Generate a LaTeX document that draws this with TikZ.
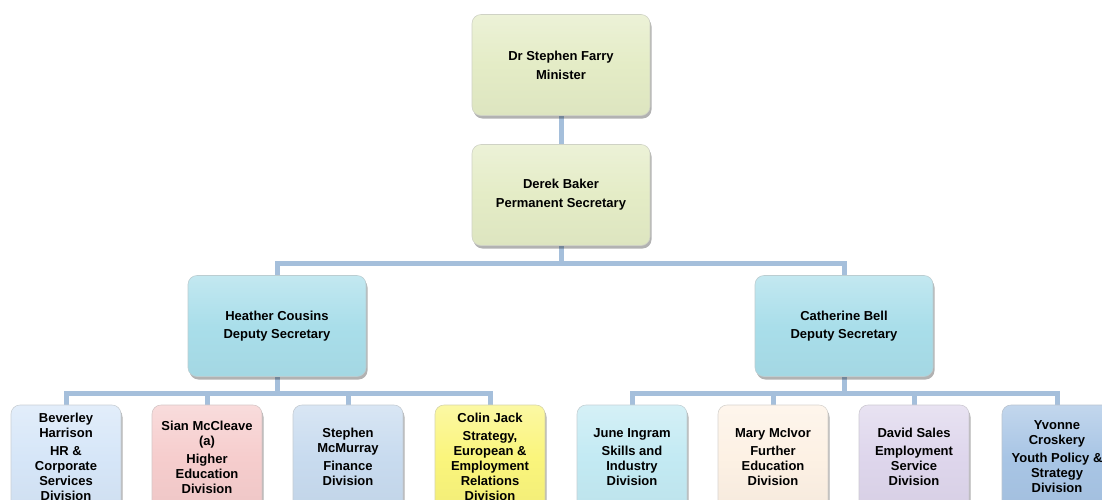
\documentclass[tikz,border=0pt]{standalone}
\usepackage{fontspec}
\setmainfont{Liberation Sans}
\usetikzlibrary{shadows}
\definecolor{cMin}{HTML}{E4ECC6}
\definecolor{cDep}{HTML}{A9DEEA}
\definecolor{cBev}{HTML}{D6E6F8}
\definecolor{cSian}{HTML}{F6CDCD}
\definecolor{cSteph}{HTML}{C8DBEF}
\definecolor{cColin}{HTML}{FAF57C}
\definecolor{cJune}{HTML}{C3EAF3}
\definecolor{cMary}{HTML}{FDF1E4}
\definecolor{cDavid}{HTML}{DED6EC}
\definecolor{cYv}{HTML}{A8C5E5}
\definecolor{cConn}{HTML}{A5BFDB}
\pgfdeclarelayer{bg}
\pgfsetlayers{bg,main}
\tikzset{
  box/.style={rounded corners=9pt, align=center, inner sep=0pt,
    font=\bfseries\fontsize{13}{15}\selectfont,
    draw=#1!70!black!50, line width=0.6pt,
    top color=#1!70!white, bottom color=#1!97!black, middle color=#1,
    drop shadow={shadow xshift=1.5pt, shadow yshift=-3pt, opacity=0.3, fill=black}},
  bigbox/.style={box=#1, minimum width=178, minimum height=101},
  smallbox/.style={box=#1, minimum width=110, minimum height=104},
  conn/.style={draw=cConn, line width=5pt}
}
\begin{document}
\begin{tikzpicture}[x=1pt,y=-1pt]
\begin{pgfonlayer}{bg}
\fill[white] (0,0) rectangle (1102,499);
\end{pgfonlayer}
\path[use as bounding box, clip] (0,0) rectangle (1102,499);
% top
\node[bigbox=cMin] (min) at (561,65) {Dr Stephen Farry\\[4pt]Minister};
\node[bigbox=cMin] (perm) at (561,195) {Derek Baker\\[4pt]Permanent Secretary};
\node[bigbox=cDep] (hc) at (277,326) {Heather Cousins\\[3pt]Deputy Secretary};
\node[bigbox=cDep] (cb) at (844,326) {Catherine Bell\\[3pt]Deputy Secretary};
% bottom row
\node[smallbox=cBev] (bev) at (66,457) {Beverley\\Harrison\\[3pt]HR \&\\Corporate\\Services\\Division};
\node[smallbox=cSian] (sian) at (207,457) {Sian McCleave\\(a)\\[3pt]Higher\\Education\\Division};
\node[smallbox=cSteph] (steph) at (348,457) {Stephen\\McMurray\\[3pt]Finance\\Division};
\node[smallbox=cColin] (colin) at (490,457) {Colin Jack\\[3pt]Strategy,\\European \&\\Employment\\Relations\\Division};
\node[smallbox=cJune] (june) at (632,457) {June Ingram\\[3pt]Skills and\\Industry\\Division};
\node[smallbox=cMary] (mary) at (773,457) {Mary McIvor\\[3pt]Further\\Education\\Division};
\node[smallbox=cDavid] (david) at (914,457) {David Sales\\[3pt]Employment\\Service\\Division};
\node[smallbox=cYv] (yv) at (1057,457) {Yvonne\\Croskery\\[3pt]Youth Policy \&\\Strategy\\Division};
% connectors
\coordinate (b1) at (561,263);
\coordinate (b2) at (277,393);
\coordinate (b3) at (844,393);
\begin{pgfonlayer}{bg}
\draw[conn] (min.south) -- (perm.north);
\draw[conn] (perm.south) -- (b1);
\draw[conn] (hc.north) |- (b1) -| (cb.north);
\draw[conn] (hc.south) -- (b2);
\draw[conn] (bev.north) |- (b2) -| (colin.north);
\draw[conn] (sian.north) -- (sian.north |- b2);
\draw[conn] (steph.north) -- (steph.north |- b2);
\draw[conn] (cb.south) -- (b3);
\draw[conn] (june.north) |- (b3) -| (yv.north);
\draw[conn] (mary.north) -- (mary.north |- b3);
\draw[conn] (david.north) -- (david.north |- b3);
\end{pgfonlayer}
\end{tikzpicture}
\end{document}
